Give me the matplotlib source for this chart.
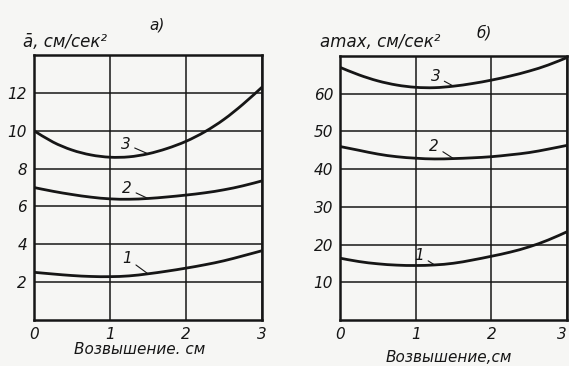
import matplotlib
matplotlib.use("Agg")
import matplotlib.pyplot as plt
from matplotlib.path import Path
from matplotlib.patches import PathPatch

# ---- data ----
x = [0, 0.25, 0.5, 0.75, 1.0, 1.25, 1.5, 1.75, 2.0, 2.25, 2.5, 2.75, 3.0]

# panel а) mean acceleration, см/сек²
a_mean_1 = [2.52, 2.43, 2.35, 2.30, 2.29, 2.33, 2.44, 2.58, 2.74, 2.92, 3.13, 3.39, 3.66]
a_mean_2 = [7.00, 6.80, 6.63, 6.49, 6.40, 6.38, 6.42, 6.50, 6.60, 6.72, 6.88, 7.09, 7.35]
a_mean_3 = [10.0, 9.40, 8.98, 8.72, 8.60, 8.62, 8.78, 9.06, 9.44, 9.95, 10.6, 11.4, 12.3]

# panel б) max acceleration, см/сек²
a_max_1 = [16.4, 15.5, 14.9, 14.55, 14.45, 14.6, 15.05, 15.9, 16.9, 18.0, 19.4, 21.2, 23.4]
a_max_2 = [46.0, 45.0, 44.0, 43.3, 42.9, 42.7, 42.8, 43.0, 43.3, 43.8, 44.4, 45.3, 46.3]
a_max_3 = [67.0, 65.0, 63.4, 62.3, 61.7, 61.6, 62.0, 62.7, 63.6, 64.7, 66.0, 67.6, 69.6]

x_ticks = [0, 1, 2, 3]
left_yticks = [2, 4, 6, 8, 10, 12]
right_yticks = [10, 20, 30, 40, 50, 60]
curve_names = ["1", "2", "3"]

xlabel_a = "Возвышение. см"
xlabel_b = "Возвышение,см"
ylabel_a = "ā, см/сек²"
ylabel_b = "amax, см/сек²"

# ---- style ----
W, H = 569, 366
BG = "#f6f6f4"
INK = "#161616"
FONT = dict(family=["Liberation Sans Narrow", "DejaVu Sans"], style="italic", color=INK)

fig = plt.figure(figsize=(W / 100, H / 100), dpi=100, facecolor=BG)


def px_rect(x0, y0, x1, y1):
    return [x0 / W, 1 - y1 / H, (x1 - x0) / W, (y1 - y0) / H]


def setup(ax, ymax, yticks):
    ax.set_facecolor(BG)
    ax.set_xlim(0, 3)
    ax.set_ylim(0, ymax)
    ax.set_xticks(x_ticks)
    ax.set_yticks(yticks)
    ax.grid(True, color=INK, linewidth=1.1)
    ax.tick_params(length=0, pad=5)
    for s in ax.spines.values():
        s.set_linewidth(1.8)
        s.set_color(INK)
    for lab in ax.get_xticklabels() + ax.get_yticklabels():
        lab.set_fontfamily(FONT["family"])
        lab.set_fontstyle("italic")
        lab.set_fontsize(11)
        lab.set_color(INK)


def smooth_curve(ax, xs, ys):
    # Catmull-Rom through the read points, drawn as cubic Bezier path in data coords
    pts = list(zip(xs, ys))
    n = len(pts)
    verts = [pts[0]]
    codes = [Path.MOVETO]
    for i in range(n - 1):
        p0 = pts[max(i - 1, 0)]
        p1 = pts[i]
        p2 = pts[i + 1]
        p3 = pts[min(i + 2, n - 1)]
        c1 = (p1[0] + (p2[0] - p0[0]) / 6, p1[1] + (p2[1] - p0[1]) / 6)
        c2 = (p2[0] - (p3[0] - p1[0]) / 6, p2[1] - (p3[1] - p1[1]) / 6)
        verts += [c1, c2, p2]
        codes += [Path.CURVE4] * 3
    patch = PathPatch(Path(verts, codes), fill=False, edgecolor=INK, lw=2.0,
                      capstyle="round", joinstyle="round", clip_on=True)
    ax.add_patch(patch)


def leader(ax, xi, ys, name, dx, dy):
    ax.annotate(name, xy=(x[xi], ys[xi]), xytext=(dx, dy), textcoords="offset points",
                ha="center", va="center", fontsize=11,
                arrowprops=dict(arrowstyle="-", color=INK, lw=0.8, shrinkA=1, shrinkB=0),
                **FONT)


# panel а)
axa = fig.add_axes(px_rect(34, 55, 262, 320))
setup(axa, 14, left_yticks)
for ys in (a_mean_1, a_mean_2, a_mean_3):
    smooth_curve(axa, x, ys)
leader(axa, 6, a_mean_3, curve_names[2], -16, 7)
leader(axa, 6, a_mean_2, curve_names[1], -15, 7)
leader(axa, 6, a_mean_1, curve_names[0], -15, 11)

# panel б)
axb = fig.add_axes(px_rect(340, 56, 567, 320))
setup(axb, 70, right_yticks)
for ys in (a_max_1, a_max_2, a_max_3):
    smooth_curve(axb, x, ys)
leader(axb, 6, a_max_3, curve_names[2], -13, 7)
leader(axb, 6, a_max_2, curve_names[1], -14, 9)
leader(axb, 5, a_max_1, curve_names[0], -11, 7)
axb.get_xticklabels()[-1].set_horizontalalignment("right")

# labels
fig.text(157 / W, 1 - 25 / H, "а)", ha="center", va="center", fontsize=11, **FONT)
fig.text(484 / W, 1 - 33 / H, "б)", ha="center", va="center", fontsize=11, **FONT)
fig.text(23 / W, 1 - 42 / H, ylabel_a, ha="left", va="center", fontsize=12, **FONT)
fig.text(320 / W, 1 - 42 / H, ylabel_b, ha="left", va="center", fontsize=12, **FONT)
fig.text(140 / W, 1 - 350 / H, xlabel_a, ha="center", va="center", fontsize=11, **FONT)
fig.text(449 / W, 1 - 357 / H, xlabel_b, ha="center", va="center", fontsize=11, **FONT)

fig.savefig("out.png", dpi=100, facecolor=BG)
